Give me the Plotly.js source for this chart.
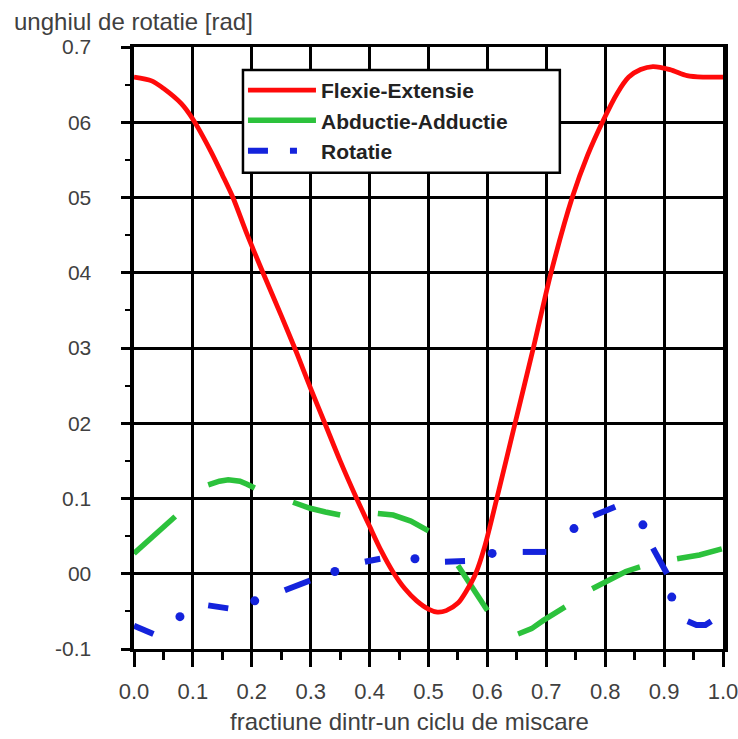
<!DOCTYPE html>
<html>
<head>
<meta charset="utf-8">
<script src="https://cdn.plot.ly/plotly-3.0.1.min.js"></script>
<style>html,body{margin:0;padding:0;background:#fff;}#chart{width:738px;height:739px;}</style>
</head>
<body>
<div id="chart"></div>
<script>
// Flexie-Extensie (solid red)
const flexX = [0, 0.03, 0.05, 0.08, 0.10, 0.13, 0.15, 0.168, 0.19, 0.219, 0.25, 0.277, 0.30, 0.324, 0.35, 0.378, 0.40, 0.42, 0.44, 0.46, 0.48, 0.50, 0.515, 0.53, 0.55, 0.565, 0.58, 0.595, 0.616, 0.647, 0.678, 0.708, 0.744, 0.77, 0.797, 0.82, 0.84, 0.86, 0.881, 0.91, 0.939, 0.966, 1.0];
const flexY = [0.660, 0.655, 0.645, 0.625, 0.604, 0.562, 0.530, 0.500, 0.455, 0.400, 0.343, 0.292, 0.246, 0.200, 0.150, 0.100, 0.063, 0.030, 0.002, -0.020, -0.036, -0.047, -0.051, -0.049, -0.039, -0.022, 0.000, 0.035, 0.100, 0.200, 0.300, 0.400, 0.500, 0.556, 0.603, 0.638, 0.660, 0.670, 0.674, 0.670, 0.662, 0.660, 0.660];

// Abductie-Adductie (green, dashed segments; null = gap)
const abdX = [0, 0.033, 0.07, null, 0.126, 0.145, 0.16, 0.18, 0.192, 0.205, null, 0.27, 0.299, 0.325, 0.35, null, 0.414, 0.44, 0.47, 0.50, null, 0.55, 0.575, 0.60, null, 0.652, 0.675, 0.695, 0.732, null, 0.778, 0.808, 0.835, 0.859, null, 0.922, 0.96, 0.998];
const abdY = [0.027, 0.050, 0.076, null, 0.118, 0.123, 0.125, 0.123, 0.119, 0.114, null, 0.095, 0.087, 0.082, 0.078, null, 0.080, 0.078, 0.070, 0.057, null, 0.011, -0.020, -0.049, null, -0.080, -0.073, -0.062, -0.044, null, -0.020, -0.007, 0.003, 0.009, null, 0.020, 0.025, 0.033];

// Rotatie (blue, dash-dot): dashes and dots
const rotDashX = [0, 0.033, null, 0.126, 0.145, 0.16, null, 0.256, 0.299, null, 0.392, 0.418, null, 0.528, 0.562, null, 0.66, 0.70, null, 0.78, 0.80, 0.817, null, 0.881, 0.895, 0.905, null, 0.94, 0.955, 0.97, 0.98];
const rotDashY = [-0.069, -0.080, null, -0.042, -0.045, -0.046, null, -0.022, -0.009, null, 0.016, 0.020, null, 0.016, 0.017, null, 0.029, 0.029, null, 0.077, 0.084, 0.089, null, 0.034, 0.015, 0.000, null, -0.063, -0.068, -0.068, -0.063];
const rotDotX = [0.078, 0.205, 0.341, 0.477, 0.608, 0.747, 0.864, 0.913];
const rotDotY = [-0.057, -0.036, 0.003, 0.020, 0.027, 0.060, 0.065, -0.031];

const seriesNames = ["Flexie-Extensie", "Abductie-Adductie", "Rotatie"];
const yTickVals = [-0.1, 0, 0.1, 0.2, 0.3, 0.4, 0.5, 0.6, 0.7];
const yTickText = ["-0.1", "00", "0.1", "02", "03", "04", "05", "06", "0.7"];
const xTickVals = [0, 0.1, 0.2, 0.3, 0.4, 0.5, 0.6, 0.7, 0.8, 0.9, 1.0];
const xTickText = ["0.0", "0.1", "0.2", "0.3", "0.4", "0.5", "0.6", "0.7", "0.8", "0.9", "1.0"];
const xTitle = "fractiune dintr-un ciclu de miscare";
const yTitle = "unghiul de rotatie [rad]";

const RED = "#ff0a0a", GREEN = "#2cc23c", BLUE = "#1423dc";

const traces = [
  {x: rotDashX, y: rotDashY, mode: "lines", line: {color: BLUE, width: 6}, connectgaps: false, showlegend: false, hoverinfo: "skip"},
  {x: rotDotX, y: rotDotY, mode: "markers", marker: {color: BLUE, size: 9}, showlegend: false, hoverinfo: "skip"},
  {x: abdX, y: abdY, mode: "lines", name: seriesNames[1], line: {color: GREEN, width: 5.5}, connectgaps: false, legendrank: 2, legendgroup: "g2"},
  {x: flexX, y: flexY, mode: "lines", name: seriesNames[0], line: {color: RED, width: 4.8, shape: "spline", smoothing: 0.8}, legendrank: 1, legendgroup: "g1"},
  {x: [null], y: [null], mode: "lines", name: seriesNames[2], line: {color: BLUE, width: 6, dash: "20px,22px,7px,60px"}, legendrank: 3, legendgroup: "g3"}
];

const axisFont = {family: "Liberation Sans, Arial, sans-serif", size: 22, color: "#404040"};

const layout = {
  width: 738, height: 739,
  margin: {l: 134, r: 15, t: 47, b: 90},
  paper_bgcolor: "#fff", plot_bgcolor: "#fff",
  showlegend: true,
  xaxis: {
    range: [0, 1], tickvals: xTickVals, ticktext: xTickText,
    showgrid: true, gridcolor: "#000", gridwidth: 3,
    zeroline: false, showline: true, linecolor: "#000", linewidth: 3, mirror: true,
    ticks: "outside", ticklen: 15, tickwidth: 3, tickcolor: "#000",
    minor: {dtick: 0.05, tick0: 0.05, ticks: "outside", ticklen: 8, tickwidth: 3, tickcolor: "#000", showgrid: false},
    tickfont: axisFont, ticklabelstandoff: 6, ticklabeloverflow: "allow", fixedrange: true
  },
  yaxis: {
    range: [-0.1, 0.7], tickvals: yTickVals, ticktext: yTickText,
    showgrid: true, gridcolor: "#000", gridwidth: 3,
    zeroline: false, showline: true, linecolor: "#000", linewidth: 4.5, mirror: true,
    ticks: "outside", ticklen: 9, tickwidth: 3, tickcolor: "#000",
    minor: {dtick: 0.05, tick0: 0.05, ticks: "outside", ticklen: 5, tickwidth: 2, tickcolor: "#000", showgrid: false},
    tickfont: {family: "Liberation Sans, Arial, sans-serif", size: 21, color: "#404040"},
    ticklabelstandoff: 25, fixedrange: true
  },
  legend: {
    x: 0.185, y: 0.962, xanchor: "left", yanchor: "top",
    bgcolor: "rgba(0,0,0,0)", borderwidth: 0,
    font: {family: "Liberation Sans, Arial, sans-serif", size: 21, color: "#222", weight: "bold"},
    itemwidth: 68, tracegroupgap: 4, traceorder: "normal"
  },
  shapes: [
    {type: "rect", xref: "paper", yref: "paper", x0: 0.185, x1: 0.723, y0: 0.791, y1: 0.962,
     fillcolor: "#fff", line: {color: "#000", width: 2.5}, layer: "above"}
  ],
  annotations: [
    {text: yTitle, xref: "paper", yref: "paper", x: -0.207, y: 1.043, xanchor: "left", yanchor: "middle", showarrow: false,
     font: {family: "Liberation Sans, Arial, sans-serif", size: 24, color: "#404040"}},
    {text: xTitle, xref: "paper", yref: "paper", x: 0.467, y: -0.121, xanchor: "center", yanchor: "middle", showarrow: false,
     font: {family: "Liberation Sans, Arial, sans-serif", size: 24, color: "#404040"}}
  ]
};

Plotly.newPlot("chart", traces, layout, {displayModeBar: false, staticPlot: true});
</script>
</body>
</html>
